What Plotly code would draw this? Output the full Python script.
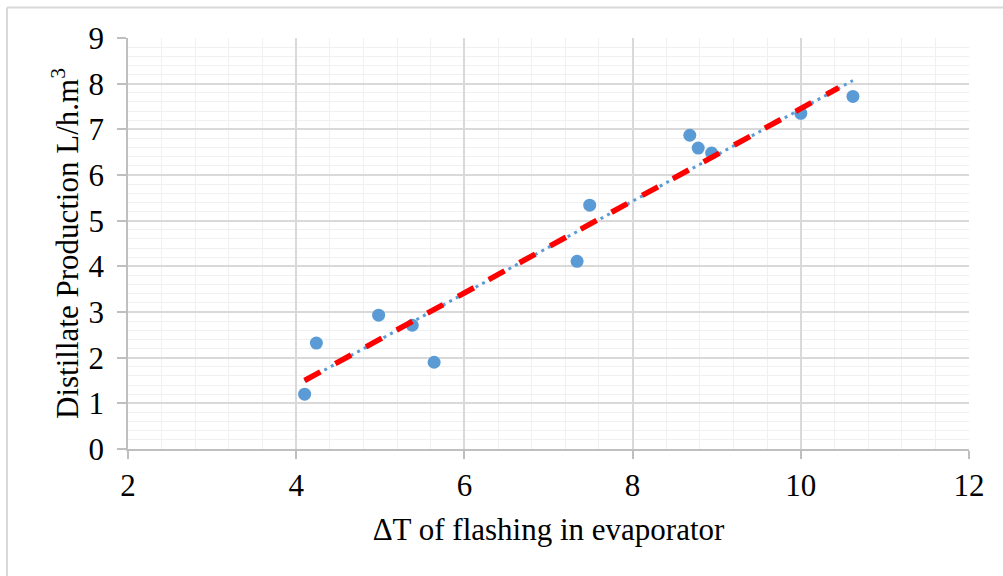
import plotly.graph_objects as go

# Data
delta_t = [4.10, 4.24, 4.98, 5.38, 5.64, 7.34, 7.49, 8.68, 8.78, 8.94, 10.00, 10.62]
distillate = [1.20, 2.32, 2.93, 2.71, 1.90, 4.11, 5.34, 6.87, 6.59, 6.48, 7.35, 7.72]

# Linear trendline (dotted) and model line (dashed red)
trend_x = [4.10, 10.62]
trend_y = [1.49, 8.07]
model_x = [4.10, 10.45]
model_y = [1.50, 7.91]

x_ticks = [2, 4, 6, 8, 10, 12]
y_ticks = [0, 1, 2, 3, 4, 5, 6, 7, 8, 9]

FONT = "Liberation Serif"
GRID_MAJOR = "#d9d9d9"
GRID_MINOR = "#f0f0f0"
BLUE = "#5B9BD5"

fig = go.Figure()
fig.add_trace(go.Scatter(x=delta_t, y=distillate, mode="markers",
                         marker=dict(color=BLUE, size=13), showlegend=False))
fig.add_trace(go.Scatter(x=trend_x, y=trend_y, mode="lines",
                         line=dict(color=BLUE, width=3, dash="3px,4.5px"), showlegend=False))
fig.add_trace(go.Scatter(x=model_x, y=model_y, mode="lines",
                         line=dict(color="#FF0000", width=5.5, dash="18px,17px"), showlegend=False))

L, R, T, B = 128, 34, 38, 127
W, H = 1003, 576
pw, ph = W - L - R, H - T - B

def px_x(p):
    return (p - L) / pw

def px_y(p):
    return (H - B - p) / ph

fig.update_layout(
    width=W, height=H,
    margin=dict(l=L, r=R, t=T, b=B, autoexpand=False),
    paper_bgcolor="white", plot_bgcolor="white",
    font=dict(family=FONT, size=31, color="black"),
    xaxis=dict(
        range=[2, 12], tickvals=x_ticks, ticktext=[str(v) for v in x_ticks],
        showgrid=True, gridcolor=GRID_MAJOR, gridwidth=1.5,
        minor=dict(dtick=0.4, showgrid=True, gridcolor=GRID_MINOR, gridwidth=1.3),
        showline=True, linecolor="#bfbfbf", linewidth=1.5,
        ticks="outside", ticklen=8, tickcolor="#bfbfbf", tickwidth=1.5,
        zeroline=False, automargin=False,
        title=dict(text="ΔT of flashing in evaporator", standoff=16,
                   font=dict(family=FONT, size=31)),
    ),
    yaxis=dict(
        range=[0, 9], tickvals=y_ticks, ticktext=[str(v) for v in y_ticks],
        showgrid=True, gridcolor=GRID_MAJOR, gridwidth=1.5,
        minor=dict(dtick=0.2, showgrid=True, gridcolor=GRID_MINOR, gridwidth=1.3),
        showline=True, linecolor="#bfbfbf", linewidth=1.5,
        ticks="outside", ticklen=9, tickcolor="#bfbfbf", tickwidth=1.5,
        ticklabelstandoff=7,
        zeroline=False, automargin=False,
        title=dict(text="Distillate Production L/h.m<sup>3</sup>", standoff=1,
                   font=dict(family=FONT, size=31)),
    ),
    shapes=[
        dict(type="line", xref="paper", yref="paper",
             x0=px_x(7), x1=px_x(1003), y0=px_y(7.5), y1=px_y(7.5),
             line=dict(color="#d9d9d9", width=2)),
        dict(type="line", xref="paper", yref="paper",
             x0=px_x(7), x1=px_x(7), y0=px_y(7.5), y1=px_y(576),
             line=dict(color="#d9d9d9", width=2)),
    ],
)

fig.write_html("out.html")
